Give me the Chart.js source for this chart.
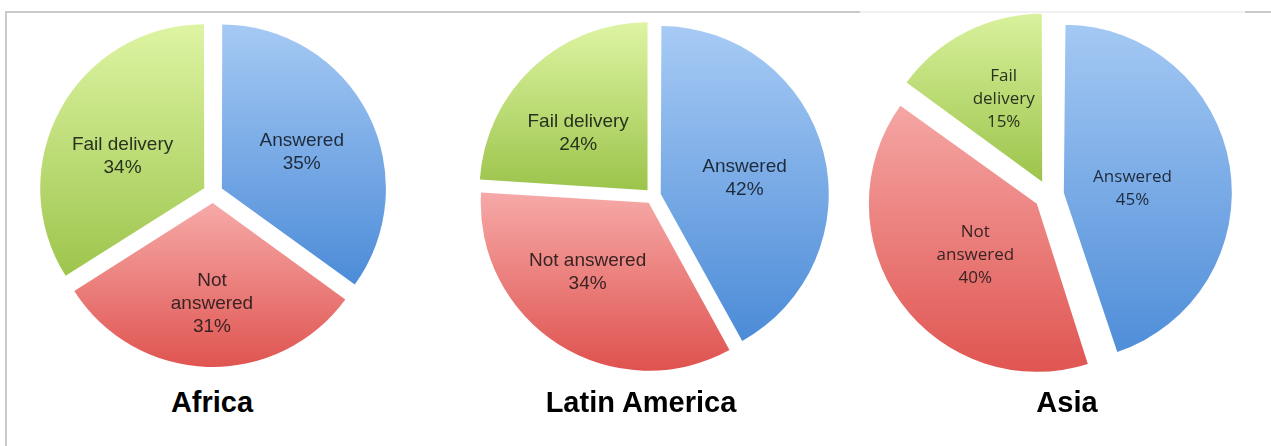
<!DOCTYPE html>
<html>
<head>
<meta charset="utf-8">
<title>Message outcomes by region</title>
<script src="https://cdn.jsdelivr.net/npm/chart.js@4.4.1/dist/chart.umd.min.js"></script>
<style>
  html, body { margin: 0; padding: 0; background: #fff; }
  #page { position: relative; width: 1271px; height: 446px; overflow: hidden; }
  .rule { position: absolute; background: #cacaca; }
  canvas { position: absolute; }
  .region {
    position: absolute; top: 386px; width: 300px; margin-left: -150px;
    text-align: center; line-height: 36px; color: #000;
    font: bold 29px "Liberation Sans", Arial, sans-serif;
  }
</style>
</head>
<body>
<div id="page">
  <div class="rule" style="left:5px; top:11px; width:1266px; height:2px;"></div>
  <div class="rule" style="left:860px; top:11px; width:385px; height:2px; background:#f1f1f1;"></div>
  <div class="rule" style="left:5px; top:11px; width:2px; height:435px;"></div>

  <canvas id="africa" width="368" height="368" style="left:29px; top:9px;"></canvas>
  <canvas id="latam" width="368" height="368" style="left:469px; top:12px;"></canvas>
  <canvas id="asia" width="396" height="396" style="left:851px; top:-3px;"></canvas>

  <div class="region" style="left:212px;">Africa</div>
  <div class="region" style="left:641px;">Latin America</div>
  <div class="region" style="left:1067px;">Asia</div>
</div>

<script>
// slice order: Answered, Not answered, Fail delivery
var categories = ['Answered', 'Not answered', 'Fail delivery'];

var africaValues = [35, 31, 34];
var latamValues = [42, 34, 24];
var asiaValues = [45, 40, 15];

// how each category name wraps inside its slice
var africaLines = [['Answered'], ['Not', 'answered'], ['Fail delivery']];
var latamLines = [['Answered'], ['Not answered'], ['Fail delivery']];
var asiaLines = [['Answered'], ['Not', 'answered'], ['Fail', 'delivery']];

// [light top, dark bottom] per slice
var sliceColors = [
    ['#a9ccf5', '#4a8ad7'],
    ['#f6aaa8', '#de4f4b'],
    ['#e0f6a6', '#9cc44b']
];
var textColors = ['#1e2b3c', '#3a2323', '#29321f'];

// vertical gradient spanning just the slice's own height
function shade(c) {
    if (c.type !== 'data') return sliceColors[0][1];
    var pair = sliceColors[c.dataIndex];
    var area = c.chart.chartArea;
    if (!area) return pair[1];
    var vals = c.dataset.data;
    var total = vals.reduce(function (a, b) { return a + b; }, 0);
    var before = 0;
    for (var k = 0; k < c.dataIndex; k++) before += vals[k];
    var a0 = -Math.PI / 2 + 2 * Math.PI * before / total;
    var a1 = a0 + 2 * Math.PI * vals[c.dataIndex] / total;
    var cy = (area.top + area.bottom) / 2;
    var R = Math.min(area.width, area.height) / 2 - 10;
    var ys = [cy, cy + R * Math.sin(a0), cy + R * Math.sin(a1)];
    if (a0 <= Math.PI / 2 && a1 >= Math.PI / 2) ys.push(cy + R);
    if (a0 <= -Math.PI / 2 + 1e-6 || a1 >= 3 * Math.PI / 2 - 1e-6) ys.push(cy - R);
    var g = c.chart.ctx.createLinearGradient(0, Math.min.apply(null, ys), 0, Math.max.apply(null, ys));
    g.addColorStop(0, pair[0]);
    g.addColorStop(1, pair[1]);
    return g;
}

// exploded arcs grow by offset/4 in chart.js; pull them back so all slices share one radius
var evenRadius = {
    id: 'evenRadius',
    afterDatasetUpdate: function (chart, args) {
        args.meta.data.forEach(function (arc) {
            var shift = (arc.options.offset || 0) / 4;
            var fix = 1 - Math.sin(Math.min(Math.PI, arc.endAngle - arc.startAngle));
            arc.outerRadius -= shift * fix;
        });
    }
};

// category name + percentage written inside each slice;
// place[i] = [fraction of radius from the slice tip, turn off the bisector in degrees]
var sliceLabels = {
    id: 'sliceLabels',
    afterDatasetsDraw: function (chart, args, opts) {
        var ctx = chart.ctx;
        var ds = chart.data.datasets[0];
        var meta = chart.getDatasetMeta(0);
        ctx.save();
        ctx.font = opts.font;
        ctx.textAlign = 'center';
        ctx.textBaseline = 'middle';
        meta.data.forEach(function (arc, i) {
            var mid = (arc.startAngle + arc.endAngle) / 2;
            var shift = (arc.options.offset || 0) / 4;
            var tipX = arc.x + Math.cos(mid) * shift;
            var tipY = arc.y + Math.sin(mid) * shift;
            var ang = mid + opts.place[i][1] * Math.PI / 180;
            var r = opts.place[i][0] * arc.outerRadius;
            var x = tipX + Math.cos(ang) * r;
            var y = tipY + Math.sin(ang) * r;
            var lines = chart.data.labels[i].concat([ds.data[i] + '%']);
            var y0 = y - (lines.length - 1) * opts.lineHeight / 2;
            ctx.fillStyle = textColors[i];
            lines.forEach(function (t, n) {
                ctx.fillText(t, x, y0 + n * opts.lineHeight);
            });
        });
        ctx.restore();
    }
};

function drawRegion(id, values, lines, offset, labelOpts) {
    return new Chart(document.getElementById(id), {
        type: 'pie',
        data: {
            labels: lines,
            datasets: [{
                label: categories.join(' / '),
                data: values,
                backgroundColor: shade,
                borderWidth: 0,
                offset: offset,
                hoverOffset: 0
            }]
        },
        options: {
            responsive: false,
            animation: false,
            events: [],
            layout: { padding: 0 },
            plugins: {
                legend: { display: false },
                tooltip: { enabled: false },
                sliceLabels: labelOpts
            }
        },
        plugins: [evenRadius, sliceLabels]
    });
}

drawRegion('africa', africaValues, africaLines, 40, {
    font: '19px "Liberation Sans", Arial, sans-serif', lineHeight: 23,
    place: [[0.54, 2.8], [0.62, -1.4], [0.54, -7.4]]
});
drawRegion('latam', latamValues, latamLines, 32, {
    font: '19px "Liberation Sans", Arial, sans-serif', lineHeight: 23,
    place: [[0.52, 3.9], [0.555, 8.9], [0.535, -7.3]]
});
drawRegion('asia', asiaValues, asiaLines, 60, {
    font: '17px "Open Sans", "Noto Sans", sans-serif', lineHeight: 23,
    place: [[0.437, 5.3], [0.495, -3.8], [0.55, 1.9]]
});
</script>
</body>
</html>
